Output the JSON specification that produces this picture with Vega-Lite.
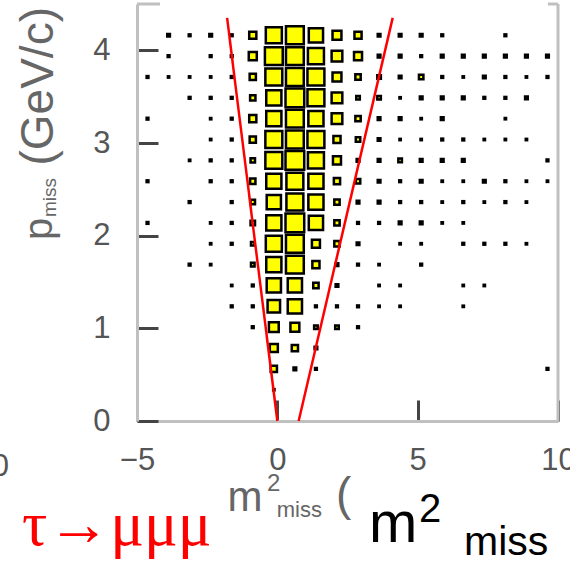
{
  "$schema": "https://vega.github.io/schema/vega-lite/v6.json",
  "width": 421,
  "height": 417,
  "autosize": "none",
  "padding": {"left": 137, "top": 4, "right": 12, "bottom": 142},
  "background": "white",
  "view": {"stroke": null},
  "config": {"font": "Liberation Sans"},
  "datasets": {
    "cells": [
      {"m2": -3.875, "p": 4.1625, "n": 3}, {"m2": -3.125, "p": 4.1625, "n": 2}, {"m2": -2.375, "p": 4.1625, "n": 3}, {"m2": -1.625, "p": 4.1625, "n": 2}, {"m2": -0.875, "p": 4.1625, "n": 8}, {"m2": -0.125, "p": 4.1625, "n": 18}, {"m2": 0.625, "p": 4.1625, "n": 20}, {"m2": 1.375, "p": 4.1625, "n": 16}, {"m2": 2.125, "p": 4.1625, "n": 10}, {"m2": 2.875, "p": 4.1625, "n": 8}, {"m2": 3.625, "p": 4.1625, "n": 3}, {"m2": 4.375, "p": 4.1625, "n": 3}, {"m2": 5.125, "p": 4.1625, "n": 3}, {"m2": 5.875, "p": 4.1625, "n": 2}, {"m2": 8.125, "p": 4.1625, "n": 2},
      {"m2": -3.875, "p": 3.9375, "n": 2}, {"m2": -2.375, "p": 3.9375, "n": 2}, {"m2": -1.625, "p": 3.9375, "n": 2}, {"m2": -0.875, "p": 3.9375, "n": 9}, {"m2": -0.125, "p": 3.9375, "n": 20}, {"m2": 0.625, "p": 3.9375, "n": 20}, {"m2": 1.375, "p": 3.9375, "n": 18}, {"m2": 2.125, "p": 3.9375, "n": 12}, {"m2": 2.875, "p": 3.9375, "n": 9}, {"m2": 3.625, "p": 3.9375, "n": 3}, {"m2": 4.375, "p": 3.9375, "n": 3}, {"m2": 5.125, "p": 3.9375, "n": 2}, {"m2": 5.875, "p": 3.9375, "n": 3}, {"m2": 6.625, "p": 3.9375, "n": 3}, {"m2": 7.375, "p": 3.9375, "n": 3}, {"m2": 8.125, "p": 3.9375, "n": 3}, {"m2": 8.875, "p": 3.9375, "n": 3}, {"m2": 9.625, "p": 3.9375, "n": 3},
      {"m2": -4.625, "p": 3.7125, "n": 2}, {"m2": -3.875, "p": 3.7125, "n": 1.5}, {"m2": -3.125, "p": 3.7125, "n": 1.5}, {"m2": -2.375, "p": 3.7125, "n": 1.5}, {"m2": -1.625, "p": 3.7125, "n": 2}, {"m2": -0.875, "p": 3.7125, "n": 7}, {"m2": -0.125, "p": 3.7125, "n": 19}, {"m2": 0.625, "p": 3.7125, "n": 20}, {"m2": 1.375, "p": 3.7125, "n": 19}, {"m2": 2.125, "p": 3.7125, "n": 10}, {"m2": 2.875, "p": 3.7125, "n": 6}, {"m2": 3.625, "p": 3.7125, "n": 4}, {"m2": 4.375, "p": 3.7125, "n": 3}, {"m2": 5.125, "p": 3.7125, "n": 5}, {"m2": 5.875, "p": 3.7125, "n": 2}, {"m2": 6.625, "p": 3.7125, "n": 1.5}, {"m2": 7.375, "p": 3.7125, "n": 3}, {"m2": 8.125, "p": 3.7125, "n": 2}, {"m2": 8.875, "p": 3.7125, "n": 1.5}, {"m2": 9.625, "p": 3.7125, "n": 2},
      {"m2": -3.125, "p": 3.4875, "n": 2}, {"m2": -2.375, "p": 3.4875, "n": 2}, {"m2": -1.625, "p": 3.4875, "n": 2}, {"m2": -0.875, "p": 3.4875, "n": 6}, {"m2": -0.125, "p": 3.4875, "n": 17}, {"m2": 0.625, "p": 3.4875, "n": 21}, {"m2": 1.375, "p": 3.4875, "n": 19}, {"m2": 2.125, "p": 3.4875, "n": 12}, {"m2": 2.875, "p": 3.4875, "n": 4}, {"m2": 3.625, "p": 3.4875, "n": 4}, {"m2": 4.375, "p": 3.4875, "n": 1.5}, {"m2": 5.125, "p": 3.4875, "n": 3}, {"m2": 5.875, "p": 3.4875, "n": 3}, {"m2": 6.625, "p": 3.4875, "n": 3}, {"m2": 7.375, "p": 3.4875, "n": 2}, {"m2": 8.125, "p": 3.4875, "n": 2}, {"m2": 8.875, "p": 3.4875, "n": 3},
      {"m2": -4.625, "p": 3.2625, "n": 2}, {"m2": -2.375, "p": 3.2625, "n": 1.5}, {"m2": -1.625, "p": 3.2625, "n": 2}, {"m2": -0.875, "p": 3.2625, "n": 8}, {"m2": -0.125, "p": 3.2625, "n": 17}, {"m2": 0.625, "p": 3.2625, "n": 20}, {"m2": 1.375, "p": 3.2625, "n": 17}, {"m2": 2.125, "p": 3.2625, "n": 12}, {"m2": 2.875, "p": 3.2625, "n": 6}, {"m2": 3.625, "p": 3.2625, "n": 3}, {"m2": 4.375, "p": 3.2625, "n": 3}, {"m2": 5.125, "p": 3.2625, "n": 1.5}, {"m2": 5.875, "p": 3.2625, "n": 3}, {"m2": 8.125, "p": 3.2625, "n": 1.5},
      {"m2": -2.375, "p": 3.0375, "n": 1.5}, {"m2": -1.625, "p": 3.0375, "n": 2}, {"m2": -0.875, "p": 3.0375, "n": 7}, {"m2": -0.125, "p": 3.0375, "n": 19}, {"m2": 0.625, "p": 3.0375, "n": 20}, {"m2": 1.375, "p": 3.0375, "n": 19}, {"m2": 2.125, "p": 3.0375, "n": 8}, {"m2": 2.875, "p": 3.0375, "n": 5}, {"m2": 3.625, "p": 3.0375, "n": 3}, {"m2": 4.375, "p": 3.0375, "n": 1.5}, {"m2": 5.125, "p": 3.0375, "n": 1.5}, {"m2": 5.875, "p": 3.0375, "n": 2}, {"m2": 6.625, "p": 3.0375, "n": 2}, {"m2": 7.375, "p": 3.0375, "n": 1.5}, {"m2": 8.125, "p": 3.0375, "n": 1.5}, {"m2": 8.875, "p": 3.0375, "n": 1.5},
      {"m2": -3.125, "p": 2.8125, "n": 1.5}, {"m2": -2.375, "p": 2.8125, "n": 2}, {"m2": -1.625, "p": 2.8125, "n": 2}, {"m2": -0.875, "p": 2.8125, "n": 5}, {"m2": -0.125, "p": 2.8125, "n": 19}, {"m2": 0.625, "p": 2.8125, "n": 21}, {"m2": 1.375, "p": 2.8125, "n": 18}, {"m2": 2.125, "p": 2.8125, "n": 9}, {"m2": 2.875, "p": 2.8125, "n": 3}, {"m2": 3.625, "p": 2.8125, "n": 3}, {"m2": 4.375, "p": 2.8125, "n": 4}, {"m2": 5.125, "p": 2.8125, "n": 3}, {"m2": 5.875, "p": 2.8125, "n": 3}, {"m2": 6.625, "p": 2.8125, "n": 3}, {"m2": 9.625, "p": 2.8125, "n": 2},
      {"m2": -4.625, "p": 2.5875, "n": 2}, {"m2": -2.375, "p": 2.5875, "n": 2}, {"m2": -1.625, "p": 2.5875, "n": 2}, {"m2": -0.875, "p": 2.5875, "n": 6}, {"m2": -0.125, "p": 2.5875, "n": 17}, {"m2": 0.625, "p": 2.5875, "n": 19}, {"m2": 1.375, "p": 2.5875, "n": 17}, {"m2": 2.125, "p": 2.5875, "n": 7}, {"m2": 2.875, "p": 2.5875, "n": 5}, {"m2": 3.625, "p": 2.5875, "n": 3}, {"m2": 4.375, "p": 2.5875, "n": 2}, {"m2": 5.125, "p": 2.5875, "n": 3}, {"m2": 5.875, "p": 2.5875, "n": 1.5}, {"m2": 6.625, "p": 2.5875, "n": 1.5}, {"m2": 7.375, "p": 2.5875, "n": 3}, {"m2": 8.125, "p": 2.5875, "n": 2}, {"m2": 8.875, "p": 2.5875, "n": 1.5}, {"m2": 9.625, "p": 2.5875, "n": 1.5},
      {"m2": -3.125, "p": 2.3625, "n": 2}, {"m2": -1.625, "p": 2.3625, "n": 2}, {"m2": -0.875, "p": 2.3625, "n": 5}, {"m2": -0.125, "p": 2.3625, "n": 16}, {"m2": 0.625, "p": 2.3625, "n": 19}, {"m2": 1.375, "p": 2.3625, "n": 17}, {"m2": 2.125, "p": 2.3625, "n": 6}, {"m2": 2.875, "p": 2.3625, "n": 3}, {"m2": 3.625, "p": 2.3625, "n": 3}, {"m2": 4.375, "p": 2.3625, "n": 2}, {"m2": 5.125, "p": 2.3625, "n": 2}, {"m2": 5.875, "p": 2.3625, "n": 1.5}, {"m2": 6.625, "p": 2.3625, "n": 2}, {"m2": 7.375, "p": 2.3625, "n": 1.5}, {"m2": 8.125, "p": 2.3625, "n": 2}, {"m2": 8.875, "p": 2.3625, "n": 1.5},
      {"m2": -4.625, "p": 2.1375, "n": 2}, {"m2": -2.375, "p": 2.1375, "n": 1.5}, {"m2": -1.625, "p": 2.1375, "n": 2}, {"m2": -0.875, "p": 2.1375, "n": 5}, {"m2": -0.125, "p": 2.1375, "n": 17}, {"m2": 0.625, "p": 2.1375, "n": 21}, {"m2": 1.375, "p": 2.1375, "n": 16}, {"m2": 2.125, "p": 2.1375, "n": 6}, {"m2": 2.875, "p": 2.1375, "n": 2}, {"m2": 3.625, "p": 2.1375, "n": 2}, {"m2": 4.375, "p": 2.1375, "n": 3}, {"m2": 5.125, "p": 2.1375, "n": 3}, {"m2": 5.875, "p": 2.1375, "n": 1.5}, {"m2": 6.625, "p": 2.1375, "n": 1.5},
      {"m2": -2.375, "p": 1.9125, "n": 1.5}, {"m2": -1.625, "p": 1.9125, "n": 2}, {"m2": -0.875, "p": 1.9125, "n": 4}, {"m2": -0.125, "p": 1.9125, "n": 18}, {"m2": 0.625, "p": 1.9125, "n": 20}, {"m2": 1.375, "p": 1.9125, "n": 9}, {"m2": 2.125, "p": 1.9125, "n": 6}, {"m2": 2.875, "p": 1.9125, "n": 3}, {"m2": 4.375, "p": 1.9125, "n": 1.5}, {"m2": 5.125, "p": 1.9125, "n": 1.5}, {"m2": 6.625, "p": 1.9125, "n": 2}, {"m2": 7.375, "p": 1.9125, "n": 2}, {"m2": 8.125, "p": 1.9125, "n": 2}, {"m2": 8.875, "p": 1.9125, "n": 1.5},
      {"m2": -3.125, "p": 1.6875, "n": 2}, {"m2": -2.375, "p": 1.6875, "n": 1.5}, {"m2": -0.875, "p": 1.6875, "n": 4}, {"m2": -0.125, "p": 1.6875, "n": 17}, {"m2": 0.625, "p": 1.6875, "n": 20}, {"m2": 1.375, "p": 1.6875, "n": 8}, {"m2": 2.125, "p": 1.6875, "n": 3}, {"m2": 2.875, "p": 1.6875, "n": 2}, {"m2": 3.625, "p": 1.6875, "n": 1.5}, {"m2": 5.125, "p": 1.6875, "n": 2},
      {"m2": -1.625, "p": 1.4625, "n": 1.5}, {"m2": -0.875, "p": 1.4625, "n": 2}, {"m2": -0.125, "p": 1.4625, "n": 16}, {"m2": 0.625, "p": 1.4625, "n": 16}, {"m2": 1.375, "p": 1.4625, "n": 6}, {"m2": 2.125, "p": 1.4625, "n": 3}, {"m2": 3.625, "p": 1.4625, "n": 1.5}, {"m2": 4.375, "p": 1.4625, "n": 1.5}, {"m2": 6.625, "p": 1.4625, "n": 1.5}, {"m2": 7.375, "p": 1.4625, "n": 1.5},
      {"m2": -1.625, "p": 1.2375, "n": 2}, {"m2": -0.875, "p": 1.2375, "n": 2}, {"m2": -0.125, "p": 1.2375, "n": 14}, {"m2": 0.625, "p": 1.2375, "n": 16}, {"m2": 1.375, "p": 1.2375, "n": 2}, {"m2": 2.125, "p": 1.2375, "n": 2}, {"m2": 2.875, "p": 1.2375, "n": 2}, {"m2": 3.625, "p": 1.2375, "n": 1.5}, {"m2": 4.375, "p": 1.2375, "n": 1.5}, {"m2": 6.625, "p": 1.2375, "n": 1.5},
      {"m2": -0.875, "p": 1.0125, "n": 2}, {"m2": -0.125, "p": 1.0125, "n": 11}, {"m2": 0.625, "p": 1.0125, "n": 10}, {"m2": 1.375, "p": 1.0125, "n": 4}, {"m2": 2.125, "p": 1.0125, "n": 4}, {"m2": 2.875, "p": 1.0125, "n": 2},
      {"m2": -0.125, "p": 0.7875, "n": 9}, {"m2": 0.625, "p": 0.7875, "n": 7}, {"m2": 1.375, "p": 0.7875, "n": 3},
      {"m2": -0.125, "p": 0.5625, "n": 7}, {"m2": 0.625, "p": 0.5625, "n": 3}, {"m2": 1.375, "p": 0.5625, "n": 2}, {"m2": 9.625, "p": 0.5625, "n": 2},
      {"m2": -0.125, "p": 0.3375, "n": 1.5}
    ],
    "cuts": [
      {"cut": "left", "m2": 0, "p": 0},
      {"cut": "left", "m2": -1.79, "p": 4.35},
      {"cut": "right", "m2": 0.76, "p": 0},
      {"cut": "right", "m2": 4.11, "p": 4.35}
    ],
    "one": [{"k": 1}]
  },
  "layer": [
    {
      "data": {"name": "cells"},
      "mark": {"type": "square", "filled": true, "color": "#ffff00", "stroke": "#000000", "strokeWidth": 2.5, "opacity": 1},
      "encoding": {
        "x": {
          "field": "m2", "type": "quantitative",
          "scale": {"domain": [-5, 10], "nice": false, "zero": false},
          "axis": {
            "values": [-5, 0, 5, 10], "format": "d", "grid": false, "labelFlush": false,
            "labelFontSize": 31, "labelColor": "#555555", "labelPadding": 45,
            "tickSize": -21, "tickWidth": 3, "tickColor": "#444444",
            "domainColor": "#c0c0c0", "domainWidth": 3,
            "title": "m", "titleFontSize": 42, "titleFontWeight": "normal", "titleColor": "#666666",
            "titleAlign": "left", "titleBaseline": "alphabetic", "titleX": 90, "titleY": 89
          }
        },
        "y": {
          "field": "p", "type": "quantitative",
          "scale": {"domain": [0, 4.5], "nice": false, "zero": false},
          "axis": {
            "values": [0, 1, 2, 3, 4], "format": "d", "grid": false, "labelFlush": false,
            "labelFontSize": 31, "labelColor": "#555555", "labelPadding": 48,
            "tickSize": -21, "tickWidth": 3, "tickColor": "#444444",
            "domainColor": "#c0c0c0", "domainWidth": 3,
            "title": "(GeV/c)", "titleFontSize": 46, "titleFontWeight": "normal", "titleColor": "#666666",
            "titleAngle": -90, "titleAlign": "left", "titleBaseline": "alphabetic", "titleX": -85, "titleY": 161
          }
        },
        "size": {
          "field": "n", "type": "quantitative",
          "scale": {"type": "pow", "exponent": 2, "domain": [0, 21], "range": [0, 350]},
          "legend": null
        }
      }
    },
    {
      "data": {"name": "cuts"},
      "mark": {"type": "line", "color": "#ff0000", "strokeWidth": 2.5},
      "encoding": {
        "x": {"field": "m2", "type": "quantitative"},
        "y": {"field": "p", "type": "quantitative"},
        "detail": {"field": "cut"}
      }
    },
    {
      "data": {"name": "one"},
      "mark": {"type": "rule", "color": "#c0c0c0", "strokeWidth": 3, "clip": false},
      "encoding": {"x": {"datum": 10}, "y": {"datum": 0}, "y2": {"datum": 4.5}}
    },
    {
      "data": {"name": "one"},
      "mark": {"type": "rule", "color": "#c0c0c0", "strokeWidth": 3, "clip": false},
      "encoding": {"x": {"datum": -5}, "x2": {"datum": -4.18}, "y": {"datum": 4.5}}
    },
    {
      "data": {"name": "one"},
      "mark": {"type": "rule", "color": "#c0c0c0", "strokeWidth": 3, "clip": false},
      "encoding": {"x": {"datum": 9.64}, "x2": {"datum": 10}, "y": {"datum": 4.5}}
    },
    {
      "data": {"name": "one"},
      "mark": {"type": "text", "text": "2", "fontSize": 24, "color": "#666666", "align": "left", "baseline": "alphabetic", "clip": false},
      "encoding": {"x": {"datum": -0.37}, "y": {"datum": -0.76}}
    },
    {
      "data": {"name": "one"},
      "mark": {"type": "text", "text": "miss", "fontSize": 22, "color": "#666666", "align": "left", "baseline": "alphabetic", "clip": false},
      "encoding": {"x": {"datum": -0.02}, "y": {"datum": -1.036}}
    },
    {
      "data": {"name": "one"},
      "mark": {"type": "text", "text": "(", "fontSize": 46, "color": "#666666", "align": "left", "baseline": "alphabetic", "clip": false},
      "encoding": {"x": {"datum": 2.09}, "y": {"datum": -0.96}}
    },
    {
      "data": {"name": "one"},
      "mark": {"type": "text", "text": "p", "fontSize": 40, "color": "#666666", "align": "left", "baseline": "alphabetic", "angle": 270, "clip": false},
      "encoding": {"x": {"datum": -8.03}, "y": {"datum": 1.953}}
    },
    {
      "data": {"name": "one"},
      "mark": {"type": "text", "text": "miss", "fontSize": 19, "color": "#666666", "align": "left", "baseline": "alphabetic", "angle": 270, "clip": false},
      "encoding": {"x": {"datum": -7.886}, "y": {"datum": 2.201}}
    },
    {
      "data": {"name": "one"},
      "mark": {"type": "text", "text": "10", "fontSize": 31, "color": "#555555", "align": "right", "baseline": "alphabetic", "clip": false},
      "encoding": {"x": {"datum": -9.56}, "y": {"datum": -0.594}}
    },
    {
      "data": {"name": "one"},
      "mark": {"type": "text", "text": "τ→μμμ", "font": "Liberation Serif", "fontSize": 63, "color": "#ff0000", "align": "left", "baseline": "alphabetic", "clip": false},
      "encoding": {"x": {"datum": -9.1}, "y": {"datum": -1.338}}
    },
    {
      "data": {"name": "one"},
      "mark": {"type": "text", "text": "m", "fontSize": 58, "color": "#000000", "align": "left", "baseline": "alphabetic", "clip": false},
      "encoding": {"x": {"datum": 3.27}, "y": {"datum": -1.306}}
    },
    {
      "data": {"name": "one"},
      "mark": {"type": "text", "text": "2", "fontSize": 40, "color": "#000000", "align": "left", "baseline": "alphabetic", "clip": false},
      "encoding": {"x": {"datum": 5.05}, "y": {"datum": -1.09}}
    },
    {
      "data": {"name": "one"},
      "mark": {"type": "text", "text": "miss", "fontSize": 41, "color": "#000000", "align": "left", "baseline": "alphabetic", "clip": false},
      "encoding": {"x": {"datum": 6.65}, "y": {"datum": -1.446}}
    }
  ]
}
